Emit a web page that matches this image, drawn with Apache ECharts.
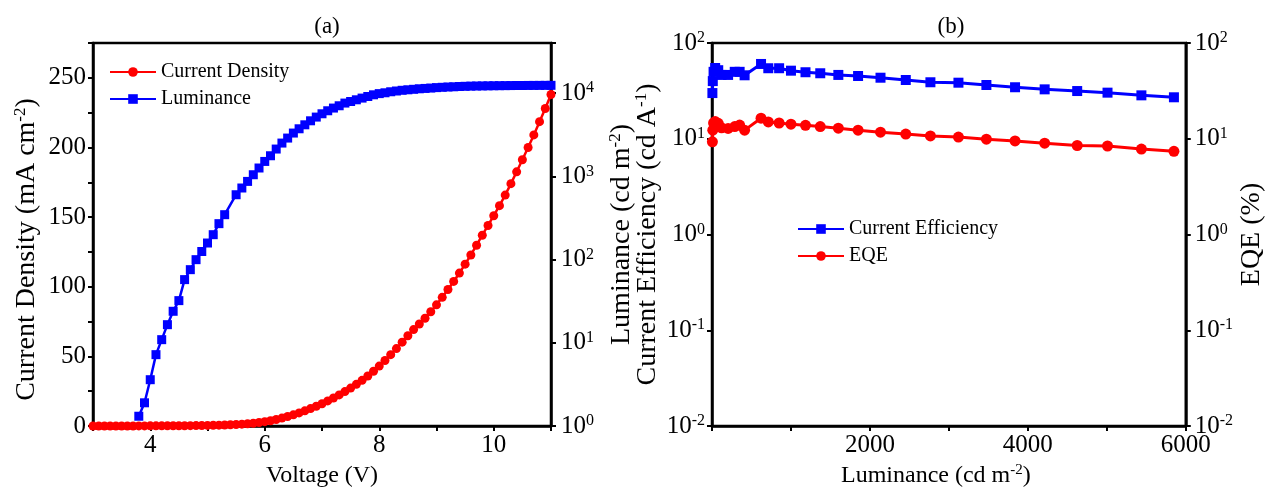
<!DOCTYPE html>
<html>
<head>
<meta charset="utf-8">
<script src="https://cdn.jsdelivr.net/npm/echarts@6/dist/echarts.min.js"></script>
<style>
  html, body { margin: 0; padding: 0; background: #fff; }
  #chart { width: 1268px; height: 497px; }
</style>
</head>
<body>
<div id="chart"></div>
<script>
// (a) J-V-L
var voltage = [3.0, 3.1, 3.2, 3.3, 3.4, 3.5, 3.6, 3.7, 3.8, 3.9,
  4.0, 4.1, 4.2, 4.3, 4.4, 4.5, 4.6, 4.7, 4.8, 4.9,
  5.0, 5.1, 5.2, 5.3, 5.4, 5.5, 5.6, 5.7, 5.8, 5.9,
  6.0, 6.1, 6.2, 6.3, 6.4, 6.5, 6.6, 6.7, 6.8, 6.9,
  7.0, 7.1, 7.2, 7.3, 7.4, 7.5, 7.6, 7.7, 7.8, 7.9,
  8.0, 8.1, 8.2, 8.3, 8.4, 8.5, 8.6, 8.7, 8.8, 8.9,
  9.0, 9.1, 9.2, 9.3, 9.4, 9.5, 9.6, 9.7, 9.8, 9.9,
  10.0, 10.1, 10.2, 10.3, 10.4, 10.5, 10.6, 10.7, 10.8, 10.9, 11.0];
var currentDensity = [0, 0, 0, 0, 0, 0, 0, 0, 0.05, 0.05,
  0.1, 0.1, 0.1, 0.15, 0.15, 0.2, 0.2, 0.25, 0.3, 0.35,
  0.4, 0.5, 0.6, 0.75, 0.9, 1.1, 1.3, 1.6, 2.0, 2.5,
  3.1, 3.8, 4.7, 5.7, 6.8, 8.0, 9.4, 10.9, 12.5, 14.2,
  16.0, 18.0, 20.1, 22.3, 24.7, 27.2, 29.9, 32.8, 35.9, 39.3,
  43.0, 47.0, 51.2, 55.6, 60.2, 64.8, 69.2, 73.2, 77.4, 82.0,
  87.0, 92.4, 98.0, 103.8, 109.8, 116.2, 122.8, 129.8, 137.0, 144.0,
  151.0, 158.2, 165.8, 174.0, 182.5, 191.2, 200.0, 209.0, 218.5, 228.0, 238.0];

var lumVoltage = [3.8, 3.9, 4.0, 4.1, 4.2, 4.3, 4.4, 4.5, 4.6, 4.7, 4.8, 4.9,
  5.0, 5.1, 5.2, 5.3, 5.5, 5.6, 5.7, 5.8, 5.9,
  6.0, 6.1, 6.2, 6.3, 6.4, 6.5, 6.6, 6.7, 6.8, 6.9,
  7.0, 7.1, 7.2, 7.3, 7.4, 7.5, 7.6, 7.7, 7.8, 7.9,
  8.0, 8.1, 8.2, 8.3, 8.4, 8.5, 8.6, 8.7, 8.8, 8.9,
  9.0, 9.1, 9.2, 9.3, 9.4, 9.5, 9.6, 9.7, 9.8, 9.9,
  10.0, 10.1, 10.2, 10.3, 10.4, 10.5, 10.6, 10.7, 10.8, 10.9, 11.0];
var luminance = [1.31, 1.9, 3.6, 7.2, 10.9, 16.5, 23.9, 32.1, 57.4, 75.6, 99.7, 125,
  158, 199, 270, 346, 601, 724, 869, 1045, 1259,
  1510, 1767, 2127, 2510, 2882, 3311, 3727, 4160, 4648, 5150,
  5645, 6135, 6610, 7045, 7590, 7930, 8310, 8710, 9110, 9540,
  9860, 10090, 10380, 10600, 10810, 10960, 11110, 11270, 11380, 11500,
  11640, 11740, 11840, 11910, 12000, 12070, 12130, 12170, 12200, 12230,
  12260, 12280, 12300, 12320, 12340, 12350, 12360, 12370, 12380, 12390, 12400];

// (b) efficiency vs luminance
var lumB = [5, 10, 20, 40, 79, 121, 204, 288, 350, 413, 621, 713, 850, 1000, 1184, 1371,
  1600, 1850, 2134, 2454, 2766, 3121, 3475, 3838, 4213, 4625, 5009, 5438, 5850];
var currentEff = [30, 40, 50, 54.8, 52, 46.4, 46.4, 50, 50, 46, 60.4, 54.5, 54.5, 51.4, 49.5, 48.3,
  46.4, 45.2, 43.4, 41.1, 38.9, 38.5, 36.4, 34.5, 32.8, 31.5, 30.3, 28.4, 27.1];
var eqe = [9.3, 12.3, 14.6, 15.1, 14.5, 13, 12.8, 13.4, 13.9, 12.3, 16.4, 15, 14.6, 14.2, 13.8, 13.4,
  12.9, 12.3, 11.7, 11.2, 10.7, 10.4, 9.9, 9.5, 9.0, 8.5, 8.4, 7.8, 7.4];

var FONT = 'Liberation Serif';
var tickFont = 25;
var supStyle = { fontSize: 16, fontFamily: FONT, color: '#000', verticalAlign: 'top', lineHeight: 26 };

function pairs(xs, ys) {
  return xs.map(function (x, i) { return [x, ys[i]]; });
}
function powLabel(v) {
  var n = Math.round(Math.log10(v));
  if (Math.abs(Math.log10(v) - n) > 0.01) return '';
  return '10{sup|' + n + '}';
}
function nameStyle(size, padding) {
  return {
    fontSize: size, fontFamily: FONT, color: '#000', lineHeight: size + 2, padding: padding || 0,
    rich: { sup: { fontSize: Math.round(size * 0.62), fontFamily: FONT, color: '#000', verticalAlign: 'top', lineHeight: size + 2 } }
  };
}
var axisLine = { show: true, lineStyle: { color: '#000', width: 2.5 } };
var axisTick = { show: true, length: 5, lineStyle: { color: '#000', width: 2 } };
var labelStyle = { fontSize: tickFont, fontFamily: FONT, color: '#000' };
var logLabel = {
  fontSize: tickFont, fontFamily: FONT, color: '#000', lineHeight: 26,
  formatter: powLabel, rich: { sup: supStyle }
};

var myChart = echarts.init(document.getElementById('chart'));

var option = {
  backgroundColor: '#fff',
  animation: false,
  title: [
    { text: '(a)', left: 322, top: 10, textAlign: 'center',
      textStyle: { fontSize: 23, fontWeight: 'normal', fontFamily: FONT, color: '#000' } },
    { text: '(b)', left: 946, top: 10, textAlign: 'center',
      textStyle: { fontSize: 23, fontWeight: 'normal', fontFamily: FONT, color: '#000' } }
  ],
  legend: [
    { data: ['Current Density', 'Luminance'], orient: 'vertical', left: 104, top: 57,
      itemWidth: 46, itemHeight: 12, itemGap: 7,
      textStyle: { fontSize: 20, fontFamily: FONT, color: '#000' } },
    { data: ['Current Efficiency', 'EQE'], orient: 'vertical', left: 792, top: 214,
      itemWidth: 46, itemHeight: 12, itemGap: 7,
      textStyle: { fontSize: 20, fontFamily: FONT, color: '#000' } }
  ],
  grid: [
    { left: 93, right: 717, top: 43, bottom: 71, show: true, borderColor: '#000', borderWidth: 2.5 },
    { left: 712, right: 76, top: 43, bottom: 71, show: true, borderColor: '#000', borderWidth: 2.5 }
  ],
  xAxis: [
    { type: 'value', gridIndex: 0, min: 3, max: 11, interval: 1,
      name: 'Voltage (V)', nameLocation: 'middle', nameGap: 25, nameTextStyle: nameStyle(24),
      axisLine: axisLine, axisTick: axisTick, splitLine: { show: false },
      axisLabel: Object.assign({ margin: 7, formatter: function (v) { return v % 2 === 0 ? v : ''; } }, labelStyle) },
    { type: 'value', gridIndex: 1, min: 0, max: 6000, interval: 1000,
      name: 'Luminance (cd m{sup|-2})', nameLocation: 'middle', nameGap: 30,
      nameTextStyle: nameStyle(24, [0, 26, 0, 0]),
      axisLine: axisLine, axisTick: axisTick, splitLine: { show: false },
      axisLabel: Object.assign({ margin: 7, formatter: function (v) { return (v > 0 && v % 2000 === 0) ? v : ''; } }, labelStyle) }
  ],
  yAxis: [
    { type: 'value', gridIndex: 0, min: 0, max: 275, interval: 25, position: 'left',
      name: 'Current Density (mA cm{sup|-2})', nameLocation: 'middle', nameRotate: 90, nameGap: 51,
      nameTextStyle: nameStyle(28, [0, 30, 0, 0]),
      axisLine: axisLine, axisTick: axisTick, splitLine: { show: false },
      axisLabel: Object.assign({ margin: 7, formatter: function (v) { return v % 50 === 0 ? v : ''; } }, labelStyle) },
    { type: 'log', gridIndex: 0, min: 1, max: 40000, logBase: 10, position: 'right',
      name: 'Luminance (cd m{sup|-2})', nameLocation: 'middle', nameRotate: 90, nameGap: 56,
      nameTextStyle: nameStyle(28),
      axisLine: axisLine, axisTick: axisTick, splitLine: { show: false },
      axisLabel: Object.assign({ margin: 10 }, logLabel) },
    { type: 'log', gridIndex: 1, min: 0.01, max: 100, logBase: 10, position: 'left',
      name: 'Current Efficiency (cd A{sup|-1})', nameLocation: 'middle', nameRotate: 90, nameGap: 45,
      nameTextStyle: nameStyle(28),
      axisLine: axisLine, axisTick: axisTick, splitLine: { show: false },
      axisLabel: Object.assign({ margin: 7 }, logLabel) },
    { type: 'log', gridIndex: 1, min: 0.01, max: 100, logBase: 10, position: 'right',
      name: 'EQE (%)', nameLocation: 'middle', nameRotate: 90, nameGap: 46,
      nameTextStyle: nameStyle(28),
      axisLine: axisLine, axisTick: axisTick, splitLine: { show: false },
      axisLabel: Object.assign({ margin: 9 }, logLabel) }
  ],
  series: [
    { name: 'Luminance', type: 'line', xAxisIndex: 0, yAxisIndex: 1,
      data: pairs(lumVoltage, luminance),
      symbol: 'rect', symbolSize: 9, color: '#0000ff',
      lineStyle: { width: 2.5, color: '#0000ff' }, itemStyle: { color: '#0000ff' } },
    { name: 'Current Density', type: 'line', xAxisIndex: 0, yAxisIndex: 0,
      data: pairs(voltage, currentDensity),
      symbol: 'circle', symbolSize: 9, color: '#ff0000',
      lineStyle: { width: 2.5, color: '#ff0000' }, itemStyle: { color: '#ff0000' } },
    { name: 'Current Efficiency', type: 'line', xAxisIndex: 1, yAxisIndex: 2,
      data: pairs(lumB, currentEff),
      symbol: 'rect', symbolSize: 10, color: '#0000ff',
      lineStyle: { width: 3, color: '#0000ff' }, itemStyle: { color: '#0000ff' } },
    { name: 'EQE', type: 'line', xAxisIndex: 1, yAxisIndex: 3,
      data: pairs(lumB, eqe),
      symbol: 'circle', symbolSize: 11, color: '#ff0000',
      lineStyle: { width: 3, color: '#ff0000' }, itemStyle: { color: '#ff0000' } }
  ]
};

myChart.setOption(option);
</script>
</body>
</html>
